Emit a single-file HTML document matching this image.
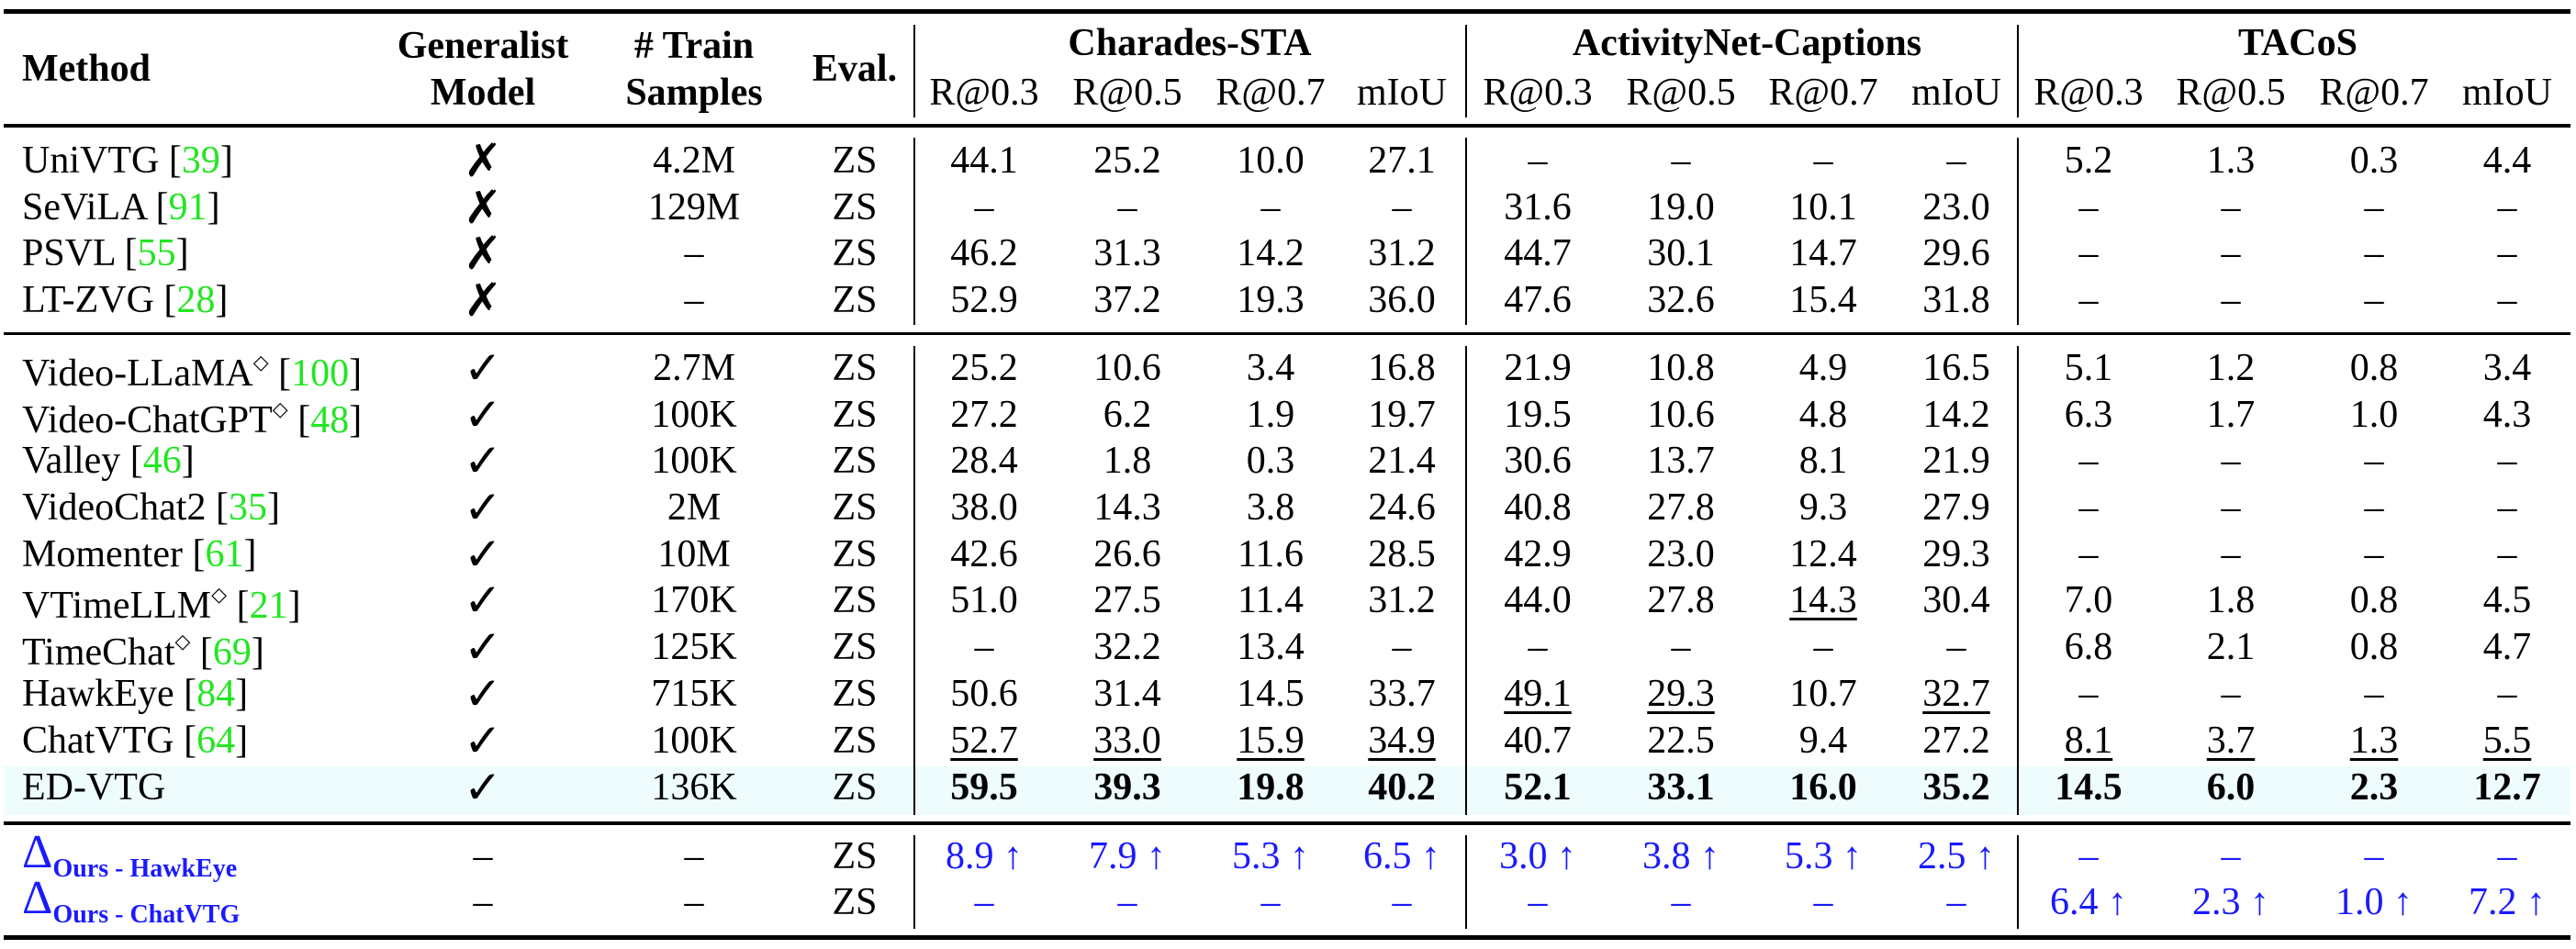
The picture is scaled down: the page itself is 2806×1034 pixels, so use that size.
<!DOCTYPE html>
<html><head><meta charset="utf-8"><style>
body{margin:0;width:2806px;height:1034px;background:#fff;position:relative;overflow:hidden;font-family:"Liberation Serif","DejaVu Serif",serif;font-size:42px;color:#000}
.c{position:absolute;transform:translate(-50%,-50%);white-space:nowrap;line-height:48px}
.l{position:absolute;transform:translateY(-50%);white-space:nowrap;line-height:48px;left:24px}
.b{font-weight:bold}
.u{text-decoration:underline;text-underline-offset:6px;text-decoration-thickness:3px}
.g{color:#22e622}
.r{position:absolute;background:#000;left:4px;width:2796px}
.v{position:absolute;width:2px;background:#000}
.bl{color:#1a1aff}
sup{font-size:22px;vertical-align:18px}
.ck{font-family:"DejaVu Sans",sans-serif;font-size:50px}
.d{font-size:52px}
.sub{font-weight:bold;font-size:28px;position:relative;top:10px}
</style></head><body>
<div style="position:absolute;left:4px;top:835px;width:2796px;height:53px;background:#eefcfd"></div>
<div class="r" style="top:10px;height:5px"></div>
<div class="r" style="top:135px;height:4px"></div>
<div class="r" style="top:362px;height:3px"></div>
<div class="r" style="top:895px;height:4px"></div>
<div class="r" style="top:1019px;height:5px"></div>
<div class="v" style="left:995px;top:27px;height:101px"></div>
<div class="v" style="left:1596px;top:27px;height:101px"></div>
<div class="v" style="left:2197px;top:27px;height:101px"></div>
<div class="v" style="left:995px;top:150px;height:204px"></div>
<div class="v" style="left:1596px;top:150px;height:204px"></div>
<div class="v" style="left:2197px;top:150px;height:204px"></div>
<div class="v" style="left:995px;top:377px;height:511px"></div>
<div class="v" style="left:1596px;top:377px;height:511px"></div>
<div class="v" style="left:2197px;top:377px;height:511px"></div>
<div class="v" style="left:995px;top:910px;height:102px"></div>
<div class="v" style="left:1596px;top:910px;height:102px"></div>
<div class="v" style="left:2197px;top:910px;height:102px"></div>

<div class="l b" style="top:75px">Method</div>
<div class="c b" style="left:526px;top:50px">Generalist</div>
<div class="c b" style="left:526px;top:101px">Model</div>
<div class="c b" style="left:756px;top:50px"># Train</div>
<div class="c b" style="left:756px;top:101px">Samples</div>
<div class="c b" style="left:931px;top:75px">Eval.</div>
<div class="c b" style="left:1296px;top:47px">Charades-STA</div>
<div class="c b" style="left:1903px;top:47px">ActivityNet-Captions</div>
<div class="c b" style="left:2503px;top:47px">TACoS</div>
<div class="c" style="left:1072px;top:101px">R@0.3</div><div class="c" style="left:1228px;top:101px">R@0.5</div><div class="c" style="left:1384px;top:101px">R@0.7</div><div class="c" style="left:1527px;top:101px">mIoU</div>
<div class="c" style="left:1675px;top:101px">R@0.3</div><div class="c" style="left:1831px;top:101px">R@0.5</div><div class="c" style="left:1986px;top:101px">R@0.7</div><div class="c" style="left:2131px;top:101px">mIoU</div>
<div class="c" style="left:2275px;top:101px">R@0.3</div><div class="c" style="left:2430px;top:101px">R@0.5</div><div class="c" style="left:2586px;top:101px">R@0.7</div><div class="c" style="left:2731px;top:101px">mIoU</div>

<div class="l" style="top:175px">UniVTG [<span class="g">39</span>]</div><div class="c ck" style="left:526px;top:175px">✗</div><div class="c" style="left:756px;top:175px">4.2M</div><div class="c" style="left:931px;top:175px">ZS</div>
<div class="c" style="left:1072px;top:175px">44.1</div><div class="c" style="left:1228px;top:175px">25.2</div><div class="c" style="left:1384px;top:175px">10.0</div><div class="c" style="left:1527px;top:175px">27.1</div>
<div class="c" style="left:1675px;top:175px">–</div><div class="c" style="left:1831px;top:175px">–</div><div class="c" style="left:1986px;top:175px">–</div><div class="c" style="left:2131px;top:175px">–</div>
<div class="c" style="left:2275px;top:175px">5.2</div><div class="c" style="left:2430px;top:175px">1.3</div><div class="c" style="left:2586px;top:175px">0.3</div><div class="c" style="left:2731px;top:175px">4.4</div>

<div class="l" style="top:226px">SeViLA [<span class="g">91</span>]</div><div class="c ck" style="left:526px;top:226px">✗</div><div class="c" style="left:756px;top:226px">129M</div><div class="c" style="left:931px;top:226px">ZS</div>
<div class="c" style="left:1072px;top:226px">–</div><div class="c" style="left:1228px;top:226px">–</div><div class="c" style="left:1384px;top:226px">–</div><div class="c" style="left:1527px;top:226px">–</div>
<div class="c" style="left:1675px;top:226px">31.6</div><div class="c" style="left:1831px;top:226px">19.0</div><div class="c" style="left:1986px;top:226px">10.1</div><div class="c" style="left:2131px;top:226px">23.0</div>
<div class="c" style="left:2275px;top:226px">–</div><div class="c" style="left:2430px;top:226px">–</div><div class="c" style="left:2586px;top:226px">–</div><div class="c" style="left:2731px;top:226px">–</div>

<div class="l" style="top:276px">PSVL [<span class="g">55</span>]</div><div class="c ck" style="left:526px;top:276px">✗</div><div class="c" style="left:756px;top:276px">–</div><div class="c" style="left:931px;top:276px">ZS</div>
<div class="c" style="left:1072px;top:276px">46.2</div><div class="c" style="left:1228px;top:276px">31.3</div><div class="c" style="left:1384px;top:276px">14.2</div><div class="c" style="left:1527px;top:276px">31.2</div>
<div class="c" style="left:1675px;top:276px">44.7</div><div class="c" style="left:1831px;top:276px">30.1</div><div class="c" style="left:1986px;top:276px">14.7</div><div class="c" style="left:2131px;top:276px">29.6</div>
<div class="c" style="left:2275px;top:276px">–</div><div class="c" style="left:2430px;top:276px">–</div><div class="c" style="left:2586px;top:276px">–</div><div class="c" style="left:2731px;top:276px">–</div>

<div class="l" style="top:327px">LT-ZVG [<span class="g">28</span>]</div><div class="c ck" style="left:526px;top:327px">✗</div><div class="c" style="left:756px;top:327px">–</div><div class="c" style="left:931px;top:327px">ZS</div>
<div class="c" style="left:1072px;top:327px">52.9</div><div class="c" style="left:1228px;top:327px">37.2</div><div class="c" style="left:1384px;top:327px">19.3</div><div class="c" style="left:1527px;top:327px">36.0</div>
<div class="c" style="left:1675px;top:327px">47.6</div><div class="c" style="left:1831px;top:327px">32.6</div><div class="c" style="left:1986px;top:327px">15.4</div><div class="c" style="left:2131px;top:327px">31.8</div>
<div class="c" style="left:2275px;top:327px">–</div><div class="c" style="left:2430px;top:327px">–</div><div class="c" style="left:2586px;top:327px">–</div><div class="c" style="left:2731px;top:327px">–</div>

<div class="l" style="top:401px">Video-LLaMA<sup>◇</sup> [<span class="g">100</span>]</div><div class="c ck" style="left:526px;top:401px">✓</div><div class="c" style="left:756px;top:401px">2.7M</div><div class="c" style="left:931px;top:401px">ZS</div>
<div class="c" style="left:1072px;top:401px">25.2</div><div class="c" style="left:1228px;top:401px">10.6</div><div class="c" style="left:1384px;top:401px">3.4</div><div class="c" style="left:1527px;top:401px">16.8</div>
<div class="c" style="left:1675px;top:401px">21.9</div><div class="c" style="left:1831px;top:401px">10.8</div><div class="c" style="left:1986px;top:401px">4.9</div><div class="c" style="left:2131px;top:401px">16.5</div>
<div class="c" style="left:2275px;top:401px">5.1</div><div class="c" style="left:2430px;top:401px">1.2</div><div class="c" style="left:2586px;top:401px">0.8</div><div class="c" style="left:2731px;top:401px">3.4</div>

<div class="l" style="top:452px">Video-ChatGPT<sup>◇</sup> [<span class="g">48</span>]</div><div class="c ck" style="left:526px;top:452px">✓</div><div class="c" style="left:756px;top:452px">100K</div><div class="c" style="left:931px;top:452px">ZS</div>
<div class="c" style="left:1072px;top:452px">27.2</div><div class="c" style="left:1228px;top:452px">6.2</div><div class="c" style="left:1384px;top:452px">1.9</div><div class="c" style="left:1527px;top:452px">19.7</div>
<div class="c" style="left:1675px;top:452px">19.5</div><div class="c" style="left:1831px;top:452px">10.6</div><div class="c" style="left:1986px;top:452px">4.8</div><div class="c" style="left:2131px;top:452px">14.2</div>
<div class="c" style="left:2275px;top:452px">6.3</div><div class="c" style="left:2430px;top:452px">1.7</div><div class="c" style="left:2586px;top:452px">1.0</div><div class="c" style="left:2731px;top:452px">4.3</div>

<div class="l" style="top:502px">Valley [<span class="g">46</span>]</div><div class="c ck" style="left:526px;top:502px">✓</div><div class="c" style="left:756px;top:502px">100K</div><div class="c" style="left:931px;top:502px">ZS</div>
<div class="c" style="left:1072px;top:502px">28.4</div><div class="c" style="left:1228px;top:502px">1.8</div><div class="c" style="left:1384px;top:502px">0.3</div><div class="c" style="left:1527px;top:502px">21.4</div>
<div class="c" style="left:1675px;top:502px">30.6</div><div class="c" style="left:1831px;top:502px">13.7</div><div class="c" style="left:1986px;top:502px">8.1</div><div class="c" style="left:2131px;top:502px">21.9</div>
<div class="c" style="left:2275px;top:502px">–</div><div class="c" style="left:2430px;top:502px">–</div><div class="c" style="left:2586px;top:502px">–</div><div class="c" style="left:2731px;top:502px">–</div>

<div class="l" style="top:553px">VideoChat2 [<span class="g">35</span>]</div><div class="c ck" style="left:526px;top:553px">✓</div><div class="c" style="left:756px;top:553px">2M</div><div class="c" style="left:931px;top:553px">ZS</div>
<div class="c" style="left:1072px;top:553px">38.0</div><div class="c" style="left:1228px;top:553px">14.3</div><div class="c" style="left:1384px;top:553px">3.8</div><div class="c" style="left:1527px;top:553px">24.6</div>
<div class="c" style="left:1675px;top:553px">40.8</div><div class="c" style="left:1831px;top:553px">27.8</div><div class="c" style="left:1986px;top:553px">9.3</div><div class="c" style="left:2131px;top:553px">27.9</div>
<div class="c" style="left:2275px;top:553px">–</div><div class="c" style="left:2430px;top:553px">–</div><div class="c" style="left:2586px;top:553px">–</div><div class="c" style="left:2731px;top:553px">–</div>

<div class="l" style="top:604px">Momenter [<span class="g">61</span>]</div><div class="c ck" style="left:526px;top:604px">✓</div><div class="c" style="left:756px;top:604px">10M</div><div class="c" style="left:931px;top:604px">ZS</div>
<div class="c" style="left:1072px;top:604px">42.6</div><div class="c" style="left:1228px;top:604px">26.6</div><div class="c" style="left:1384px;top:604px">11.6</div><div class="c" style="left:1527px;top:604px">28.5</div>
<div class="c" style="left:1675px;top:604px">42.9</div><div class="c" style="left:1831px;top:604px">23.0</div><div class="c" style="left:1986px;top:604px">12.4</div><div class="c" style="left:2131px;top:604px">29.3</div>
<div class="c" style="left:2275px;top:604px">–</div><div class="c" style="left:2430px;top:604px">–</div><div class="c" style="left:2586px;top:604px">–</div><div class="c" style="left:2731px;top:604px">–</div>

<div class="l" style="top:654px">VTimeLLM<sup>◇</sup> [<span class="g">21</span>]</div><div class="c ck" style="left:526px;top:654px">✓</div><div class="c" style="left:756px;top:654px">170K</div><div class="c" style="left:931px;top:654px">ZS</div>
<div class="c" style="left:1072px;top:654px">51.0</div><div class="c" style="left:1228px;top:654px">27.5</div><div class="c" style="left:1384px;top:654px">11.4</div><div class="c" style="left:1527px;top:654px">31.2</div>
<div class="c" style="left:1675px;top:654px">44.0</div><div class="c" style="left:1831px;top:654px">27.8</div><div class="c u" style="left:1986px;top:654px">14.3</div><div class="c" style="left:2131px;top:654px">30.4</div>
<div class="c" style="left:2275px;top:654px">7.0</div><div class="c" style="left:2430px;top:654px">1.8</div><div class="c" style="left:2586px;top:654px">0.8</div><div class="c" style="left:2731px;top:654px">4.5</div>

<div class="l" style="top:705px">TimeChat<sup>◇</sup> [<span class="g">69</span>]</div><div class="c ck" style="left:526px;top:705px">✓</div><div class="c" style="left:756px;top:705px">125K</div><div class="c" style="left:931px;top:705px">ZS</div>
<div class="c" style="left:1072px;top:705px">–</div><div class="c" style="left:1228px;top:705px">32.2</div><div class="c" style="left:1384px;top:705px">13.4</div><div class="c" style="left:1527px;top:705px">–</div>
<div class="c" style="left:1675px;top:705px">–</div><div class="c" style="left:1831px;top:705px">–</div><div class="c" style="left:1986px;top:705px">–</div><div class="c" style="left:2131px;top:705px">–</div>
<div class="c" style="left:2275px;top:705px">6.8</div><div class="c" style="left:2430px;top:705px">2.1</div><div class="c" style="left:2586px;top:705px">0.8</div><div class="c" style="left:2731px;top:705px">4.7</div>

<div class="l" style="top:756px">HawkEye [<span class="g">84</span>]</div><div class="c ck" style="left:526px;top:756px">✓</div><div class="c" style="left:756px;top:756px">715K</div><div class="c" style="left:931px;top:756px">ZS</div>
<div class="c" style="left:1072px;top:756px">50.6</div><div class="c" style="left:1228px;top:756px">31.4</div><div class="c" style="left:1384px;top:756px">14.5</div><div class="c" style="left:1527px;top:756px">33.7</div>
<div class="c u" style="left:1675px;top:756px">49.1</div><div class="c u" style="left:1831px;top:756px">29.3</div><div class="c" style="left:1986px;top:756px">10.7</div><div class="c u" style="left:2131px;top:756px">32.7</div>
<div class="c" style="left:2275px;top:756px">–</div><div class="c" style="left:2430px;top:756px">–</div><div class="c" style="left:2586px;top:756px">–</div><div class="c" style="left:2731px;top:756px">–</div>

<div class="l" style="top:807px">ChatVTG [<span class="g">64</span>]</div><div class="c ck" style="left:526px;top:807px">✓</div><div class="c" style="left:756px;top:807px">100K</div><div class="c" style="left:931px;top:807px">ZS</div>
<div class="c u" style="left:1072px;top:807px">52.7</div><div class="c u" style="left:1228px;top:807px">33.0</div><div class="c u" style="left:1384px;top:807px">15.9</div><div class="c u" style="left:1527px;top:807px">34.9</div>
<div class="c" style="left:1675px;top:807px">40.7</div><div class="c" style="left:1831px;top:807px">22.5</div><div class="c" style="left:1986px;top:807px">9.4</div><div class="c" style="left:2131px;top:807px">27.2</div>
<div class="c u" style="left:2275px;top:807px">8.1</div><div class="c u" style="left:2430px;top:807px">3.7</div><div class="c u" style="left:2586px;top:807px">1.3</div><div class="c u" style="left:2731px;top:807px">5.5</div>

<div class="l" style="top:858px">ED-VTG</div><div class="c ck" style="left:526px;top:858px">✓</div><div class="c" style="left:756px;top:858px">136K</div><div class="c" style="left:931px;top:858px">ZS</div>
<div class="c b" style="left:1072px;top:858px">59.5</div><div class="c b" style="left:1228px;top:858px">39.3</div><div class="c b" style="left:1384px;top:858px">19.8</div><div class="c b" style="left:1527px;top:858px">40.2</div>
<div class="c b" style="left:1675px;top:858px">52.1</div><div class="c b" style="left:1831px;top:858px">33.1</div><div class="c b" style="left:1986px;top:858px">16.0</div><div class="c b" style="left:2131px;top:858px">35.2</div>
<div class="c b" style="left:2275px;top:858px">14.5</div><div class="c b" style="left:2430px;top:858px">6.0</div><div class="c b" style="left:2586px;top:858px">2.3</div><div class="c b" style="left:2731px;top:858px">12.7</div>

<div class="l bl" style="top:933px"><span class="d">Δ</span><span class="sub">Ours - HawkEye</span></div><div class="c" style="left:526px;top:933px">–</div><div class="c" style="left:756px;top:933px">–</div><div class="c" style="left:931px;top:933px">ZS</div>
<div class="c bl" style="left:1072px;top:933px">8.9 ↑</div><div class="c bl" style="left:1228px;top:933px">7.9 ↑</div><div class="c bl" style="left:1384px;top:933px">5.3 ↑</div><div class="c bl" style="left:1527px;top:933px">6.5 ↑</div>
<div class="c bl" style="left:1675px;top:933px">3.0 ↑</div><div class="c bl" style="left:1831px;top:933px">3.8 ↑</div><div class="c bl" style="left:1986px;top:933px">5.3 ↑</div><div class="c bl" style="left:2131px;top:933px">2.5 ↑</div>
<div class="c bl" style="left:2275px;top:933px">–</div><div class="c bl" style="left:2430px;top:933px">–</div><div class="c bl" style="left:2586px;top:933px">–</div><div class="c bl" style="left:2731px;top:933px">–</div>

<div class="l bl" style="top:983px"><span class="d">Δ</span><span class="sub">Ours - ChatVTG</span></div><div class="c" style="left:526px;top:983px">–</div><div class="c" style="left:756px;top:983px">–</div><div class="c" style="left:931px;top:983px">ZS</div>
<div class="c bl" style="left:1072px;top:983px">–</div><div class="c bl" style="left:1228px;top:983px">–</div><div class="c bl" style="left:1384px;top:983px">–</div><div class="c bl" style="left:1527px;top:983px">–</div>
<div class="c bl" style="left:1675px;top:983px">–</div><div class="c bl" style="left:1831px;top:983px">–</div><div class="c bl" style="left:1986px;top:983px">–</div><div class="c bl" style="left:2131px;top:983px">–</div>
<div class="c bl" style="left:2275px;top:983px">6.4 ↑</div><div class="c bl" style="left:2430px;top:983px">2.3 ↑</div><div class="c bl" style="left:2586px;top:983px">1.0 ↑</div><div class="c bl" style="left:2731px;top:983px">7.2 ↑</div>
</body></html>
